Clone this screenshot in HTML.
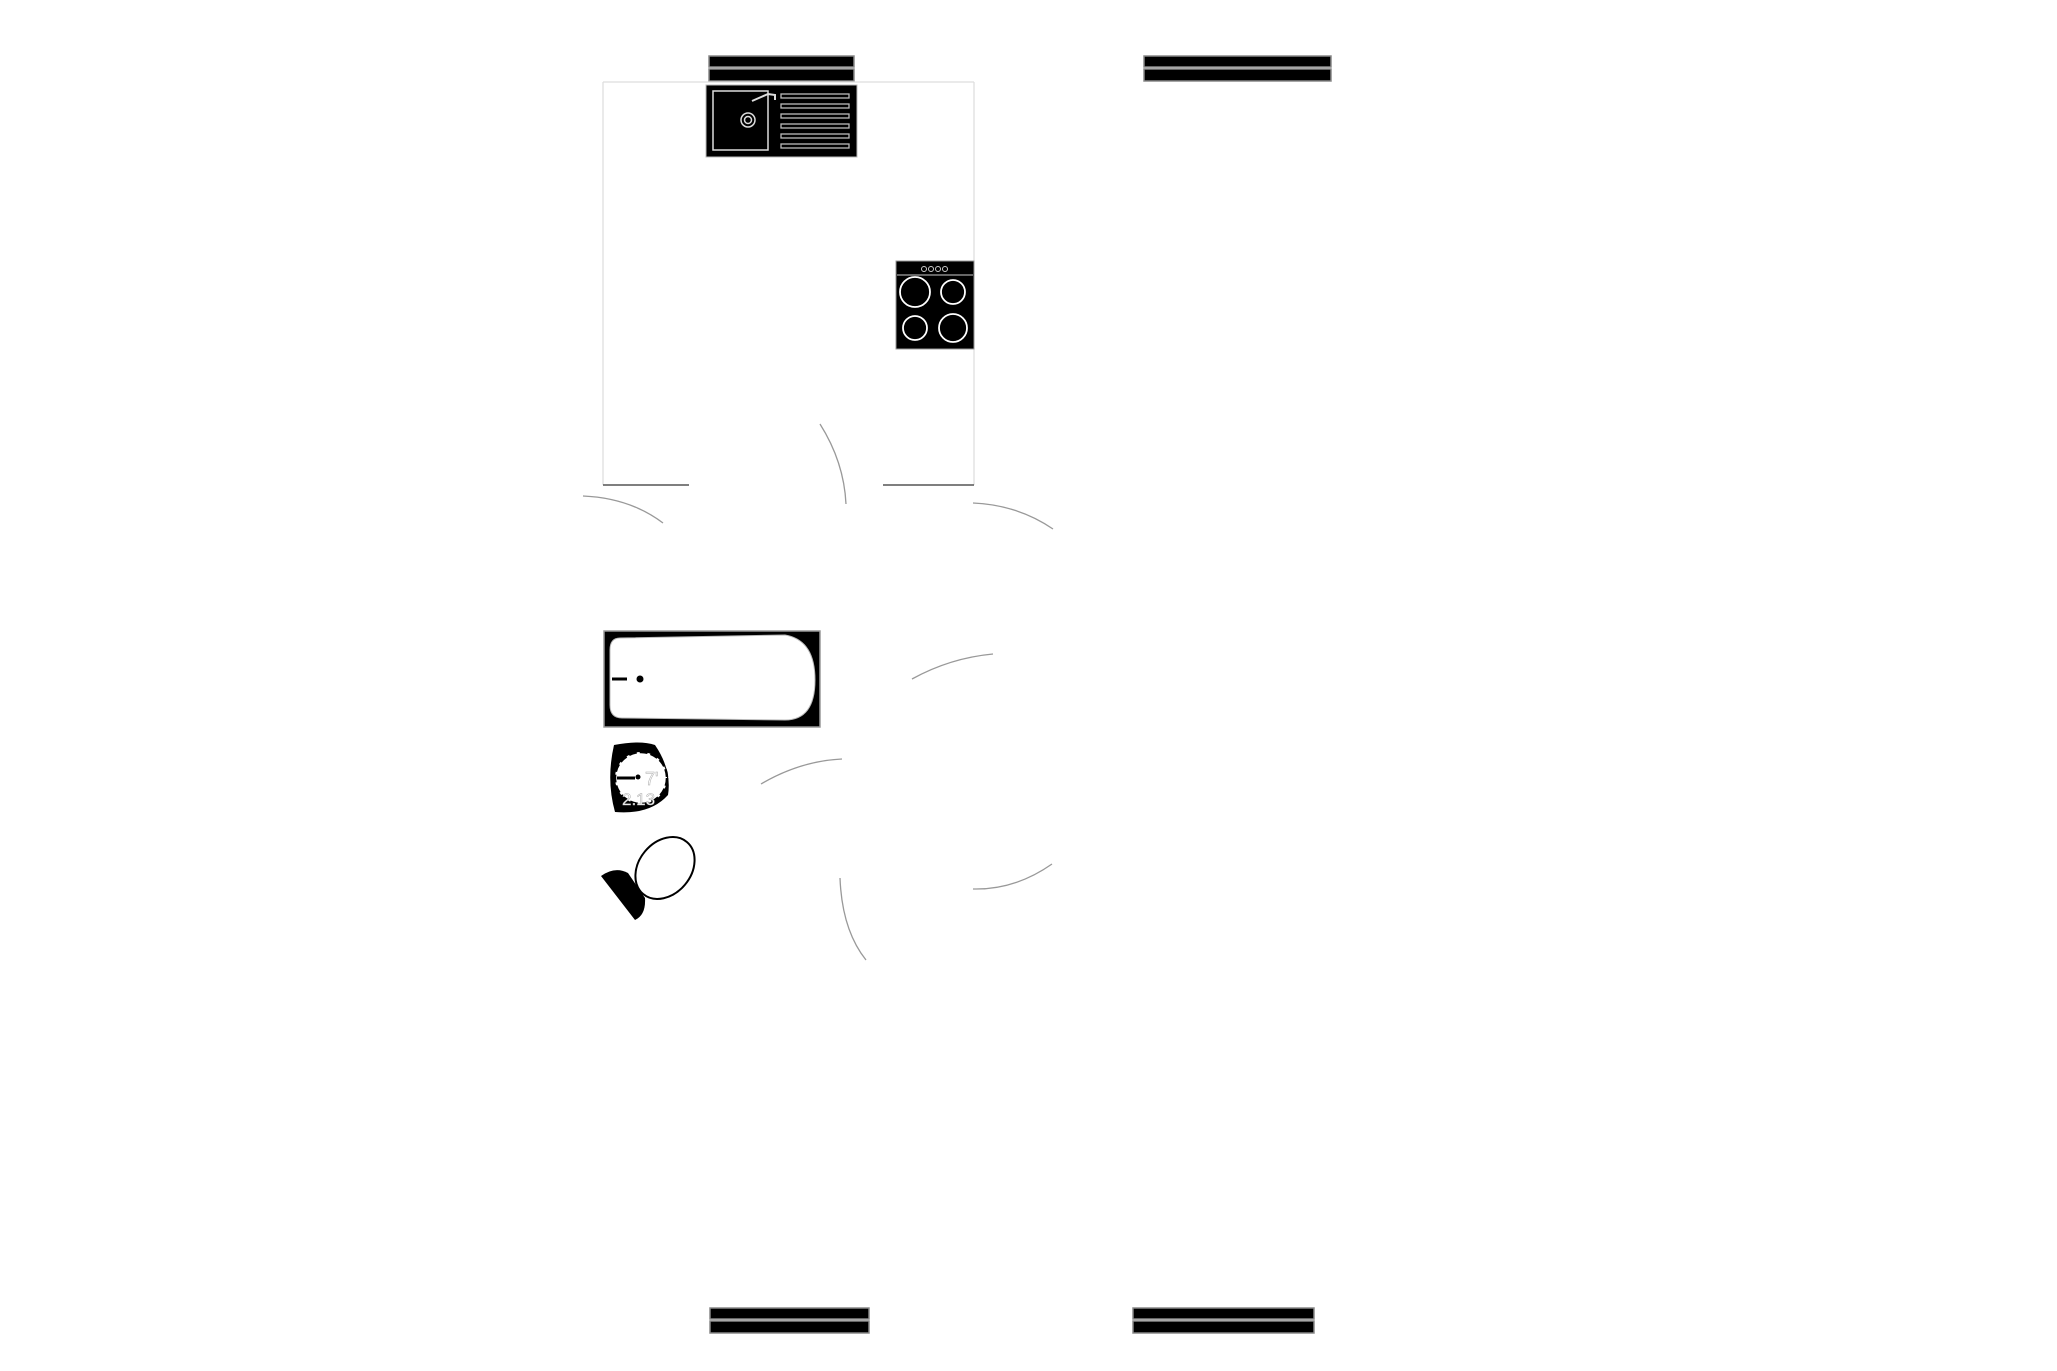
<!DOCTYPE html>
<html><head><style>html,body{margin:0;padding:0;background:#fff}svg{display:block}</style></head><body>
<svg width="2057" height="1371" viewBox="0 0 2057 1371" xmlns="http://www.w3.org/2000/svg">
<g stroke="#888" stroke-width="1.5" fill="#000">
<rect x="709" y="56" width="145" height="11"/><rect x="709" y="69" width="145" height="12"/>
<rect x="1144" y="56" width="187" height="11"/><rect x="1144" y="69" width="187" height="12"/>
<rect x="710" y="1308" width="159" height="11"/><rect x="710" y="1321" width="159" height="12"/>
<rect x="1133" y="1308" width="181" height="11"/><rect x="1133" y="1321" width="181" height="12"/>
</g>
<g fill="none" stroke="#ddd" stroke-width="1.2">
<line x1="603" y1="82" x2="974" y2="82"/><line x1="603" y1="82" x2="603" y2="485"/><line x1="974" y1="82" x2="974" y2="485"/>
</g>
<g stroke="#555" stroke-width="1.5"><line x1="603" y1="485" x2="689" y2="485"/><line x1="883" y1="485" x2="974" y2="485"/></g>
<!-- sink -->
<rect x="706" y="85" width="151" height="72" fill="#000" stroke="#bbb"/>
<rect x="713" y="91" width="55" height="59" fill="none" stroke="#ddd" stroke-width="1.5"/>
<circle cx="748" cy="120" r="7" fill="none" stroke="#ddd" stroke-width="1.5"/><circle cx="748" cy="120" r="3.5" fill="none" stroke="#ddd" stroke-width="1.5"/>
<path d="M752 101 L768 94 L775 95 L775 100" fill="none" stroke="#ddd" stroke-width="2"/>
<g fill="none" stroke="#bbb" stroke-width="1.3">
<rect x="781" y="94" width="68" height="4"/><rect x="781" y="104" width="68" height="4"/><rect x="781" y="114" width="68" height="4"/><rect x="781" y="124" width="68" height="4"/><rect x="781" y="134" width="68" height="4"/><rect x="781" y="144" width="68" height="4"/>
</g>
<!-- hob -->
<rect x="896" y="261" width="78" height="88" fill="#000" stroke="#999"/>
<line x1="897" y1="275" x2="973" y2="275" stroke="#ccc"/>
<g fill="none" stroke="#fff" stroke-width="1.8">
<circle cx="915" cy="292" r="15"/><circle cx="953" cy="292" r="12"/>
<circle cx="915" cy="328" r="12"/><circle cx="953" cy="328" r="14"/>
</g>
<g fill="none" stroke="#ccc"><circle cx="924" cy="269" r="2.5"/><circle cx="931" cy="269" r="2.5"/><circle cx="938" cy="269" r="2.5"/><circle cx="945" cy="269" r="2.5"/></g>
<!-- arcs -->
<g fill="none" stroke="#999" stroke-width="1.3">
<path d="M820 424 Q844 462 846 504"/>
<path d="M583 496 Q630 498 663 523"/>
<path d="M973 503 Q1018 505 1053 529"/>
<path d="M912 679 Q950 658 993 654"/>
<path d="M761 784 Q800 761 842 759"/>
<path d="M973 889 Q1015 890 1052 864"/>
<path d="M840 878 Q842 930 866 960"/>
</g>
<!-- bath -->
<rect x="604" y="631" width="216" height="96" fill="#000" stroke="#999" stroke-width="1.5"/>
<path d="M620 638 L785 635 Q815 640 815 680 Q815 720 785 720 L622 718 Q610 718 610 705 L610 650 Q610 638 620 638 Z" fill="#fff" stroke="#bbb"/>
<line x1="612" y1="679" x2="627" y2="679" stroke="#000" stroke-width="3"/><circle cx="640" cy="679" r="3.5" fill="#000"/>
<!-- basin -->
<path d="M614 745 Q640 740 655 745 Q672 770 668 795 Q650 815 615 812 Q606 780 614 745 Z" fill="#000"/>
<circle cx="641" cy="778" r="26" fill="#fff" stroke="#000" stroke-width="2.5" stroke-dasharray="8 3"/>
<line x1="617" y1="778" x2="635" y2="778" stroke="#000" stroke-width="3"/><circle cx="638" cy="777" r="2.5" fill="#000"/>
<text x="645" y="785" font-family="Liberation Sans, sans-serif" font-size="18" fill="#fff" stroke="#aaa" stroke-width="0.5">7'</text>
<text x="622" y="805" font-family="Liberation Sans, sans-serif" font-size="17" fill="#fff" stroke="#aaa" stroke-width="0.5">2.13</text>
<!-- toilet -->
<ellipse cx="665" cy="868" rx="26" ry="34" transform="rotate(40 665 868)" fill="#fff" stroke="#000" stroke-width="2"/>
<path d="M601 876 Q615 866 628 873 L645 898 Q646 915 635 920 Z" fill="#000"/>
</svg>
</body></html>
